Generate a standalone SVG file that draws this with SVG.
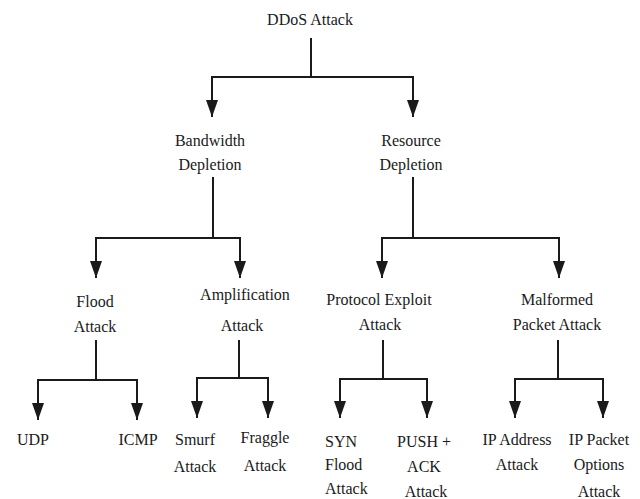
<svg xmlns="http://www.w3.org/2000/svg" width="640" height="499" viewBox="0 0 640 499">
<style>
text{font-family:"Liberation Serif","Times New Roman",serif;font-size:16px;fill:#1a1a1a;text-anchor:middle}
.l{text-anchor:start}
.c{fill:none;stroke:#1a1a1a;stroke-width:2;marker-end:url(#ah)}
</style>
<defs>
<marker id="ah" markerUnits="userSpaceOnUse" viewBox="0 0 17 12" markerWidth="17" markerHeight="12" refX="17" refY="6" orient="auto">
<path d="M0,0 L17,6 L0,12 z" fill="#1a1a1a"/>
</marker>
</defs>
<rect width="640" height="499" fill="#fff"/>
<g id="connectors">
<path class="c" d="M311,38 V77 H212 V117"/>
<path class="c" d="M311,77 H413 V117"/>
<path class="c" d="M213,177 V238 H96 V278"/>
<path class="c" d="M213,238 H240 V278"/>
<path class="c" d="M413,177 V238 H382 V278"/>
<path class="c" d="M413,238 H559 V278"/>
<path class="c" d="M96,340 V380 H38 V420"/>
<path class="c" d="M96,380 H137 V420"/>
<path class="c" d="M239,340 V378 H197 V418"/>
<path class="c" d="M239,378 H268 V418"/>
<path class="c" d="M383,340 V379 H340 V418"/>
<path class="c" d="M383,379 H427 V418"/>
<path class="c" d="M558,340 V379 H515 V418"/>
<path class="c" d="M558,379 H603 V418"/>
</g>
<g id="ddos"><text x="310" y="25">DDoS Attack</text></g>
<g id="bandwidth"><text x="210" y="146">Bandwidth</text><text x="210" y="170">Depletion</text></g>
<g id="resource"><text x="411" y="146">Resource</text><text x="411" y="170">Depletion</text></g>
<g id="flood"><text x="95" y="307">Flood</text><text x="95" y="332">Attack</text></g>
<g id="amplification"><text x="245" y="300">Amplification</text><text x="242" y="331">Attack</text></g>
<g id="protocol"><text x="379" y="305">Protocol Exploit</text><text x="380" y="330">Attack</text></g>
<g id="malformed"><text x="557" y="305">Malformed</text><text x="557" y="330">Packet Attack</text></g>
<g id="udp"><text x="33" y="445">UDP</text></g>
<g id="icmp"><text x="138" y="445">ICMP</text></g>
<g id="smurf"><text x="195" y="445">Smurf</text><text x="195" y="472">Attack</text></g>
<g id="fraggle"><text x="265" y="443">Fraggle</text><text x="265" y="471">Attack</text></g>
<g id="syn"><text class="l" x="325" y="447">SYN</text><text class="l" x="325" y="470">Flood</text><text class="l" x="325" y="494">Attack</text></g>
<g id="pushack"><text x="424" y="447">PUSH +</text><text x="424" y="472">ACK</text><text x="426" y="497">Attack</text></g>
<g id="ipaddress"><text x="517" y="445">IP Address</text><text x="517" y="470">Attack</text></g>
<g id="ippacket"><text x="599" y="445">IP Packet</text><text x="599" y="470">Options</text><text x="599" y="497">Attack</text></g>
</svg>
